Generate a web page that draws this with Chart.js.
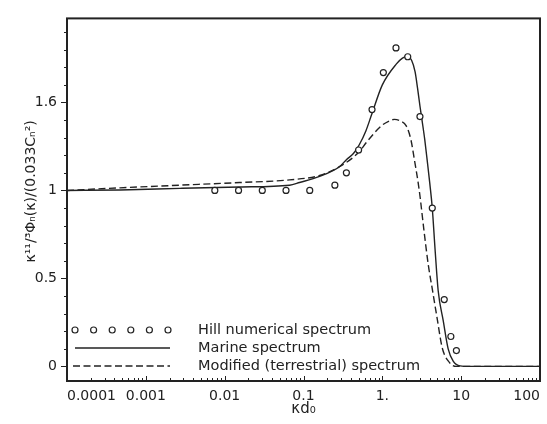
<!DOCTYPE html>
<html>
<head>
<meta charset="utf-8">
<script src="https://cdn.jsdelivr.net/npm/chart.js@4.4.1/dist/chart.umd.min.js"></script>
<style>
  html, body { margin: 0; padding: 0; background: #fff; }
  #wrap { width: 547px; height: 424px; }
</style>
</head>
<body>
<div id="wrap"><canvas id="spectrum"></canvas></div>
<script>
// values (x = kappa*l0, y = normalised spectrum)
const hillX = [0.0075, 0.015, 0.03, 0.06, 0.12, 0.25, 0.35, 0.5, 0.74, 1.03, 1.49, 2.1, 3.0, 4.3, 6.1, 7.4, 8.7];
const hillY = [1.0, 1.0, 1.0, 1.0, 1.0, 1.03, 1.1, 1.23, 1.46, 1.67, 1.81, 1.76, 1.42, 0.9, 0.38, 0.17, 0.09];

const marineX = [0.0001, 0.00047, 0.0027, 0.0155, 0.0665, 0.089, 0.16, 0.286, 0.35, 0.43, 0.51, 0.62, 0.73, 1.0, 1.5, 1.8, 2.05, 2.35, 2.6, 2.8, 3.0, 3.21, 3.45, 3.71, 4.0, 4.3, 4.69, 5.11, 5.92, 6.84, 7.92, 9.71, 12.6, 100];
const marineY = [1.0, 1.003, 1.012, 1.02, 1.03, 1.045, 1.08, 1.135, 1.175, 1.21, 1.26, 1.34, 1.43, 1.6, 1.718, 1.752, 1.762, 1.74, 1.675, 1.58, 1.48, 1.39, 1.29, 1.17, 1.04, 0.9, 0.65, 0.43, 0.26, 0.1, 0.03, 0.003, 0, 0];

const modifiedX = [0.0001, 0.00047, 0.0027, 0.0155, 0.0665, 0.16, 0.286, 0.51, 0.63, 0.97, 1.2, 1.42, 1.7, 2.01, 2.3, 2.54, 2.94, 3.40, 3.82, 4.30, 4.97, 5.74, 7.05, 8.65, 100];
const modifiedY = [1.0, 1.015, 1.03, 1.045, 1.06, 1.085, 1.135, 1.22, 1.274, 1.367, 1.393, 1.404, 1.395, 1.367, 1.29, 1.18, 1.0, 0.76, 0.58, 0.44, 0.27, 0.107, 0.024, 0, 0];

const seriesNames = ['Hill numerical spectrum', 'Marine spectrum', 'Modified (terrestrial) spectrum'];
const yTitle = 'κ¹¹/³Φₙ(κ)/(0.033Cₙ²)';

const xTickValues = [0.0001, 0.001, 0.01, 0.1, 1, 10, 100];
const xTickLabels = ['0.0001', '0.001', '0.01', '0.1', '1.', '10', '100'];
const yTickValues = [0, 0.5, 1, 1.5];
const yTickLabels = ['0', '0.5', '1', '1.6'];

const INK = '#222';
const FONT = 'DejaVu Sans';

function toPoints(xs, ys) {
    return xs.map((x, i) => ({ x: x, y: ys[i] }));
}

// box round the plot + short tick marks like the original
const frameTicks = {
    id: 'frameTicks',
    afterDatasetsDraw(chart) {
        const { ctx, chartArea: a, scales } = chart;
        const sx = scales.x, sy = scales.y;
        ctx.save();
        ctx.strokeStyle = INK;
        ctx.lineWidth = 1;
        ctx.beginPath();
        for (let e = -4; e <= 2; e++) {
            for (let k = 1; k < 10; k++) {
                const v = k * Math.pow(10, e);
                if (v > 100.0001) break;
                const px = Math.round(sx.getPixelForValue(v)) + 0.5;
                const len = k === 1 ? 5 : 3;
                ctx.moveTo(px, a.bottom);
                ctx.lineTo(px, a.bottom - len);
            }
        }
        for (let i = 0; i <= 19; i++) {
            const v = i / 10;
            const py = Math.round(sy.getPixelForValue(v)) + 0.5;
            const len = (i % 5 === 0) ? 6 : 3;
            ctx.moveTo(a.left, py);
            ctx.lineTo(a.left - len, py);
        }
        ctx.stroke();
        ctx.lineWidth = 2;
        ctx.strokeRect(a.left, a.top, a.right - a.left, a.bottom - a.top);

        // y title sits a bit above the middle in the original
        ctx.save();
        ctx.translate(31, a.top + 173);
        ctx.rotate(-Math.PI / 2);
        ctx.fillStyle = INK;
        ctx.font = '14px "' + FONT + '"';
        ctx.textAlign = 'center';
        ctx.textBaseline = 'middle';
        ctx.fillText(yTitle, 0, 0);
        ctx.restore();
        ctx.restore();
    }
};

// legend sits inside the plot, bottom left
const insideLegend = {
    id: 'insideLegend',
    afterDraw(chart) {
        const { ctx, chartArea: a } = chart;
        const ds = chart.data.datasets;
        const rows = [a.bottom - 51, a.bottom - 33, a.bottom - 15];
        const x0 = a.left + 6, x1 = a.left + 103, tx = a.left + 131;
        ctx.save();
        ctx.strokeStyle = INK;
        ctx.fillStyle = '#fff';
        ctx.lineWidth = ds[0].borderWidth;
        for (let i = 0; i < 6; i++) {
            ctx.beginPath();
            ctx.arc(x0 + 2 + i * 18.6, rows[0], ds[0].pointRadius, 0, Math.PI * 2);
            ctx.fill();
            ctx.stroke();
        }
        ctx.lineWidth = ds[1].borderWidth;
        ctx.beginPath();
        ctx.moveTo(x0 + 2, rows[1]);
        ctx.lineTo(x1, rows[1]);
        ctx.stroke();
        ctx.setLineDash(ds[2].borderDash);
        ctx.beginPath();
        ctx.moveTo(x0, rows[2]);
        ctx.lineTo(x1, rows[2]);
        ctx.stroke();
        ctx.setLineDash([]);
        ctx.fillStyle = INK;
        ctx.font = '14.5px "' + FONT + '"';
        ctx.textBaseline = 'middle';
        seriesNames.forEach((name, i) => ctx.fillText(name, tx, rows[i]));
        ctx.restore();
    }
};

const ctx = document.getElementById('spectrum').getContext('2d');
new Chart(ctx, {
    type: 'scatter',
    data: {
        datasets: [{
            label: seriesNames[0],
            data: toPoints(hillX, hillY),
            showLine: false,
            pointRadius: 3,
            pointStyle: 'circle',
            borderWidth: 1.2,
            borderColor: INK,
            backgroundColor: '#fff'
        }, {
            label: seriesNames[1],
            data: toPoints(marineX, marineY),
            showLine: true,
            pointRadius: 0,
            borderWidth: 1.4,
            borderColor: INK,
            cubicInterpolationMode: 'monotone'
        }, {
            label: seriesNames[2],
            data: toPoints(modifiedX, modifiedY),
            showLine: true,
            pointRadius: 0,
            borderWidth: 1.4,
            borderColor: INK,
            borderDash: [7, 3.5],
            cubicInterpolationMode: 'monotone'
        }]
    },
    options: {
        responsive: true,
        maintainAspectRatio: false,
        animation: false,
        layout: { padding: { left: 0, top: 10, right: 6, bottom: 0 } },
        plugins: {
            legend: { display: false },
            tooltip: { enabled: false }
        },
        scales: {
            x: {
                type: 'logarithmic',
                min: 0.0001,
                max: 100,
                afterBuildTicks: (scale) => {
                    scale.ticks = xTickValues.map(v => ({ value: v }));
                },
                afterFit: (scale) => { scale.height = 43; },
                grid: { display: false, drawTicks: false },
                border: { display: false },
                ticks: {
                    align: 'inner',
                    padding: 7,
                    color: INK,
                    font: { family: FONT, size: 14 },
                    maxRotation: 0,
                    autoSkip: false,
                    callback: function(value) {
                        const i = xTickValues.indexOf(value);
                        return i >= 0 ? xTickLabels[i] : '';
                    }
                },
                title: {
                    display: true,
                    text: 'κd₀',
                    color: INK,
                    font: { family: FONT, size: 15 },
                    padding: { top: 0, bottom: 6 }
                }
            },
            y: {
                min: -0.083,
                max: 1.978,
                afterBuildTicks: (scale) => {
                    scale.ticks = yTickValues.map(v => ({ value: v }));
                },
                afterFit: (scale) => { scale.width = 67; },
                grid: { display: false, drawTicks: false },
                border: { display: false },
                ticks: {
                    padding: 10,
                    color: INK,
                    font: { family: FONT, size: 14 },
                    callback: function(value) {
                        const i = yTickValues.indexOf(value);
                        return i >= 0 ? yTickLabels[i] : '';
                    }
                },
                title: { display: false }
            }
        }
    },
    plugins: [frameTicks, insideLegend]
});
</script>
</body>
</html>
